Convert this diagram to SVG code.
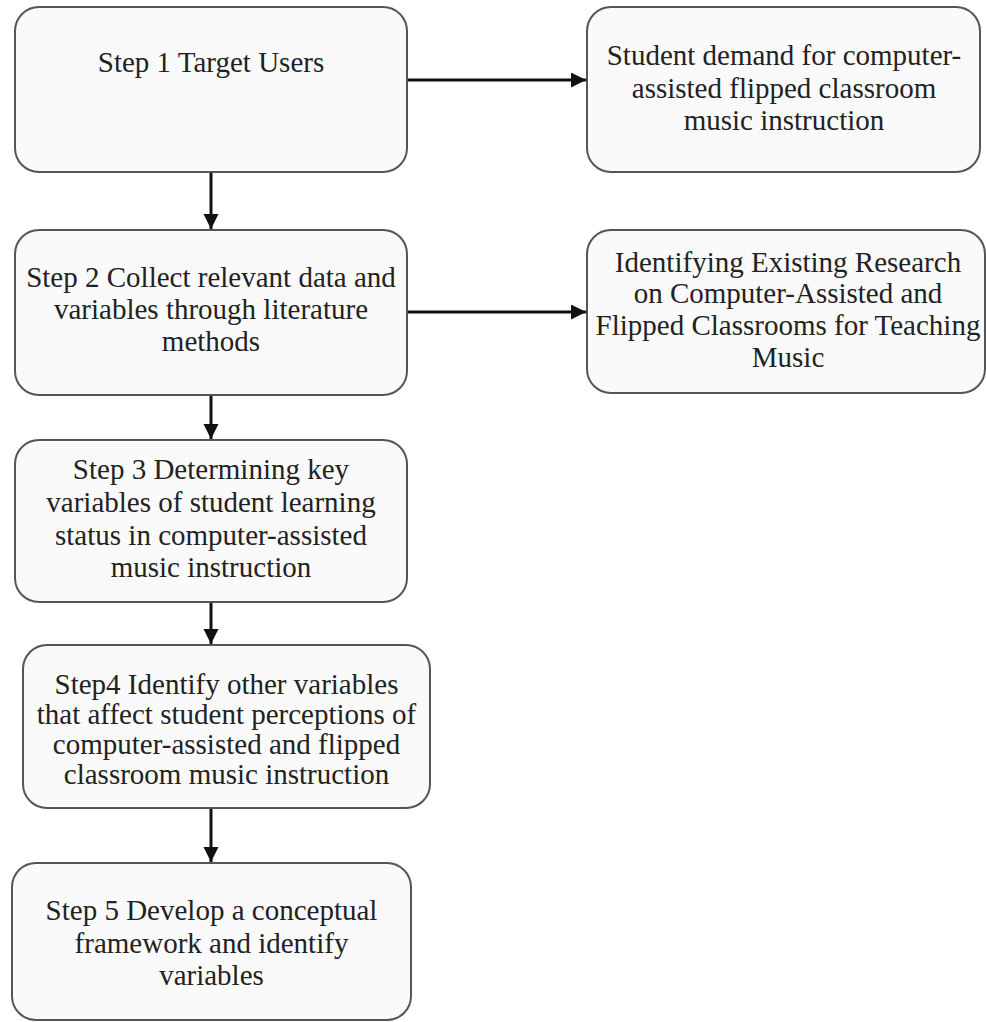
<svg xmlns="http://www.w3.org/2000/svg" width="986" height="1022" viewBox="0 0 986 1022">
<style>
.box{fill:#fafafa;stroke:#555;stroke-width:2}
.t{font-family:"Liberation Serif","Times New Roman",serif;font-size:29px;fill:#222;text-anchor:middle}
.c{stroke:#111;stroke-width:3;fill:none;marker-end:url(#ah)}
</style>
<defs>
<marker id="ah" markerUnits="userSpaceOnUse" markerWidth="16" markerHeight="16" refX="15" refY="7.5" orient="auto">
<path d="M0,0 L15,7.5 L0,15 Z" fill="#111"/>
</marker>
</defs>
<rect width="986" height="1022" fill="#fff"/>
<g id="connectors">
<line class="c" x1="407" y1="80" x2="586" y2="80"/>
<line class="c" x1="408" y1="312" x2="586" y2="312"/>
<line class="c" x1="211" y1="173" x2="211" y2="229"/>
<line class="c" x1="211" y1="396" x2="211" y2="439"/>
<line class="c" x1="211" y1="603" x2="211" y2="644"/>
<line class="c" x1="211" y1="809" x2="211" y2="862"/>
</g>
<g id="step1">
<rect class="box" x="15" y="7" width="392" height="165" rx="24"/>
<text class="t" x="211" y="72">Step 1 Target Users</text>
</g>
<g id="demand">
<rect class="box" x="587" y="7" width="393" height="165" rx="24"/>
<text class="t" x="784" y="65">Student demand for computer-</text>
<text class="t" x="784" y="98">assisted flipped classroom</text>
<text class="t" x="784" y="130">music instruction</text>
</g>
<g id="step2">
<rect class="box" x="15" y="230" width="392" height="165" rx="24"/>
<text class="t" x="211" y="287">Step 2 Collect relevant data and</text>
<text class="t" x="211" y="319">variables through literature</text>
<text class="t" x="211" y="351">methods</text>
</g>
<g id="research">
<rect class="box" x="587" y="230" width="398" height="163" rx="24"/>
<text class="t" x="788" y="272">Identifying Existing Research</text>
<text class="t" x="788" y="303">on Computer-Assisted and</text>
<text class="t" x="788" y="335">Flipped Classrooms for Teaching</text>
<text class="t" x="788" y="367">Music</text>
</g>
<g id="step3">
<rect class="box" x="15" y="440" width="392" height="162" rx="24"/>
<text class="t" x="211" y="479">Step 3 Determining key</text>
<text class="t" x="211" y="512">variables of student learning</text>
<text class="t" x="211" y="545">status in computer-assisted</text>
<text class="t" x="211" y="577">music instruction</text>
</g>
<g id="step4">
<rect class="box" x="23" y="645" width="407" height="163" rx="24"/>
<text class="t" x="226.5" y="694">Step4 Identify other variables</text>
<text class="t" x="226.5" y="724">that affect student perceptions of</text>
<text class="t" x="226.5" y="754">computer-assisted and flipped</text>
<text class="t" x="226.5" y="784">classroom music instruction</text>
</g>
<g id="step5">
<rect class="box" x="12" y="863" width="399" height="157" rx="24"/>
<text class="t" x="211.5" y="920">Step 5 Develop a conceptual</text>
<text class="t" x="211.5" y="953">framework and identify</text>
<text class="t" x="211.5" y="985">variables</text>
</g>
</svg>
